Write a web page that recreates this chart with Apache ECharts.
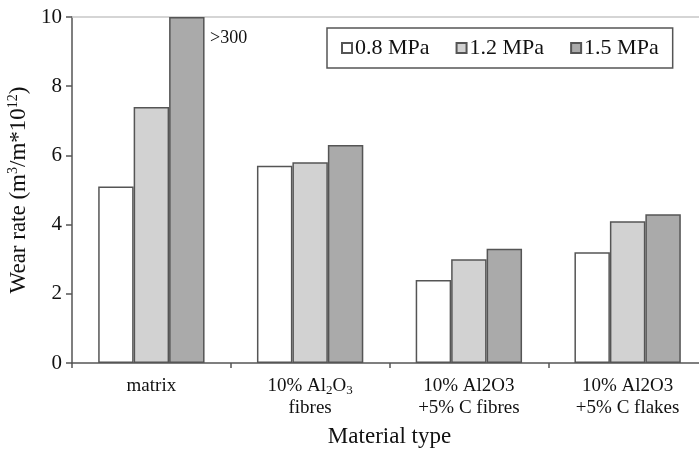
<!DOCTYPE html>
<html><head><meta charset="utf-8">
<script src="https://cdn.jsdelivr.net/npm/echarts@6/dist/echarts.min.js"></script>
<style>html,body{margin:0;padding:0;background:#fff}#c{width:699px;height:453px}</style>
</head><body><div id="c"></div>
<script>
const categories = ["matrix", "10% Al{sub|2}O{sub|3}\nfibres", "10% Al2O3\n+5% C fibres", "10% Al2O3\n+5% C flakes"];
const seriesNames = ["0.8 MPa", "1.2 MPa", "1.5 MPa"];
const s08 = [5.1, 5.7, 2.4, 3.2];
const s12 = [7.4, 5.8, 3.0, 4.1];
const s15 = [10, 6.3, 3.3, 4.3];
const s15Labels = [">300", "", "", ""];
const yTicks = [0, 2, 4, 6, 8, 10];

const font = "Liberation Serif, Times New Roman, serif";
const txt = '#111';
const colors = ["#ffffff", "#d2d2d2", "#aaaaaa"];
const chart = echarts.init(document.getElementById('c'));
function mk(name, data, color, labels) {
  return {
    name: name, type: 'bar', barGap: '0%', barCategoryGap: '33%',
    itemStyle: { color: color, borderColor: '#555', borderWidth: 1.5 },
    data: data.map((v, i) => {
      const d = { value: v };
      if (labels && labels[i]) {
        d.label = { show: true, position: [41, 12], formatter: labels[i], fontFamily: font, fontSize: 18, color: txt };
      }
      return d;
    })
  };
}
chart.setOption({
  animation: false,
  textStyle: { fontFamily: font },
  grid: { left: 72, width: 635, top: 17, bottom: 90, containLabel: false, outerBoundsMode: 'none' },
  legend: {
    left: 327, top: 28, padding: [9, 14, 9, 14],
    borderColor: '#555', borderWidth: 1.5,
    itemWidth: 10, itemHeight: 10, itemGap: 26,
    icon: 'rect',
    textStyle: { fontFamily: font, fontSize: 22, color: txt, padding: [0, 0, 0, -2] },
    data: seriesNames
  },
  xAxis: [{
    type: 'category', data: categories,
    name: 'Material type', nameLocation: 'middle', nameGap: 62,
    nameTextStyle: { fontFamily: font, fontSize: 23, color: txt },
    axisLine: { lineStyle: { color: '#555', width: 1.5 } },
    axisTick: { show: true, interval: 0, length: 5, lineStyle: { color: '#555', width: 1.5 } },
    axisLabel: { interval: 0, fontFamily: font, fontSize: 19, color: txt, margin: 12, lineHeight: 22,
      rich: { sub: { fontSize: 13, verticalAlign: 'bottom', padding: [9, 0, 0, 0], fontFamily: font, color: txt } } }
  }, {
    type: 'category', position: 'top', data: categories,
    axisLine: { lineStyle: { color: '#c8c8c8', width: 1.5 } },
    axisTick: { show: false }, axisLabel: { show: false }
  }],
  yAxis: {
    type: 'value', min: 0, max: 10, interval: 2,
    name: 'Wear rate (m{sup|3}/m*10{sup|12})', nameLocation: 'middle', nameGap: 36,
    nameTextStyle: { fontFamily: font, fontSize: 23, color: txt,
      rich: { sup: { fontSize: 14, verticalAlign: 'top', padding: [0, 0, 10, 0], fontFamily: font, color: txt } } },
    axisLine: { show: true, lineStyle: { color: '#555', width: 1.5 } },
    axisTick: { show: true, length: 6, lineStyle: { color: '#555', width: 1.5 } },
    axisLabel: { fontFamily: font, fontSize: 21, color: txt, margin: 10,
      formatter: v => yTicks.includes(v) ? String(v) : '' },
    splitLine: { show: false }
  },
  series: [mk(seriesNames[0], s08, colors[0]), mk(seriesNames[1], s12, colors[1]), mk(seriesNames[2], s15, colors[2], s15Labels)]
});
</script></body></html>
